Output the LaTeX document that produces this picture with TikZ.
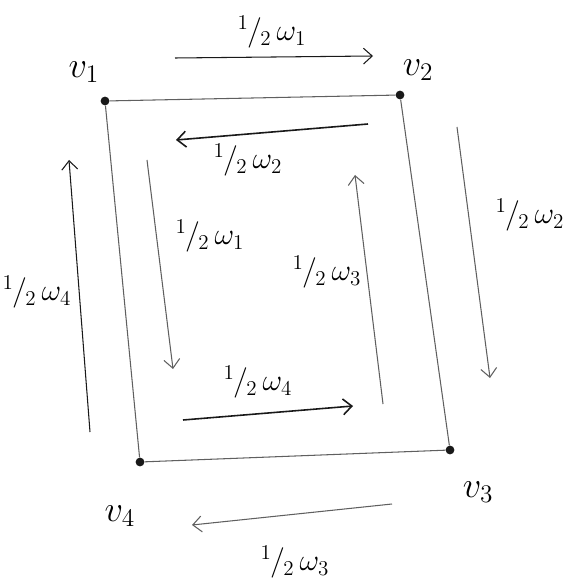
\documentclass[tikz,border=0pt]{standalone}
\usepackage{tikz}
\usetikzlibrary{arrows.meta}
\definecolor{pencil}{RGB}{95,95,95}
\definecolor{ink}{RGB}{25,25,25}

\newcommand{\halfw}[1]{${}^{1}\mkern-1mu/\mkern-1mu_{2}\,\omega_{#1}$}

\begin{document}
\begin{tikzpicture}[x=0.02cm, y=-0.02cm, vertex/.style={circle, fill=ink, inner sep=0pt, minimum size=5pt}, vlabel/.style={font=\fontsize{20}{24}\selectfont}, wlabel/.style={font=\fontsize{17}{21}\selectfont, inner sep=1pt}, edge/.style={draw=pencil, line width=0.6pt}, arrow/.style={-{Straight Barb[length=5pt, width=9pt]}, line width=0.6pt}]
\useasboundingbox (0,0) rectangle (576,587);
\node[vertex] (v1) at (105,101) {};
\node[vertex] (v2) at (400,95) {};
\node[vertex] (v3) at (450,450) {};
\node[vertex] (v4) at (140,462) {};
\draw[edge] (v1) -- (v2) -- (v3) -- (v4) -- (v1);
\node[vlabel] (l1) at (84,72) {$v_1$};
\node[vlabel] (l2) at (418,70) {$v_2$};
\node[vlabel] (l3) at (478,492) {$v_3$};
\node[vlabel] (l4) at (120,516) {$v_4$};
% arrow ends
\coordinate (a1s) at (175,58); \coordinate (a1e) at (373,56);
\coordinate (a2s) at (368,124); \coordinate (a2e) at (176,140);
\coordinate (a3s) at (457,127); \coordinate (a3e) at (490,378);
\coordinate (a4s) at (383,404); \coordinate (a4e) at (355,175);
\coordinate (a5s) at (147,160); \coordinate (a5e) at (173,369);
\coordinate (a6s) at (90,432); \coordinate (a6e) at (69,160);
\coordinate (a7s) at (183,420); \coordinate (a7e) at (353,406);
\coordinate (a8s) at (392,504); \coordinate (a8e) at (192,525);
\draw[arrow, draw=ink] (a1s) -- (a1e);
\draw[arrow, draw=ink, line width=0.9pt] (a2s) -- (a2e);
\draw[arrow, draw=pencil] (a3s) -- (a3e);
\draw[arrow, draw=pencil] (a4s) -- (a4e);
\draw[arrow, draw=pencil] (a5s) -- (a5e);
\draw[arrow, draw=ink] (a6s) -- (a6e);
\draw[arrow, draw=ink, line width=0.9pt] (a7s) -- (a7e);
\draw[arrow, draw=pencil] (a8s) -- (a8e);
\node[wlabel] (w1) at (272,32) {\halfw{1}};
\node[wlabel] (w2) at (248,160) {\halfw{2}};
\node[wlabel] (w3) at (530,215) {\halfw{2}};
\node[wlabel] (w4) at (327,272) {\halfw{3}};
\node[wlabel] (w5) at (210,236) {\halfw{1}};
\node[wlabel] (w6) at (37,292) {\halfw{4}};
\node[wlabel] (w7) at (258,382) {\halfw{4}};
\node[wlabel] (w8) at (295,562) {\halfw{3}};
\end{tikzpicture}
\end{document}
